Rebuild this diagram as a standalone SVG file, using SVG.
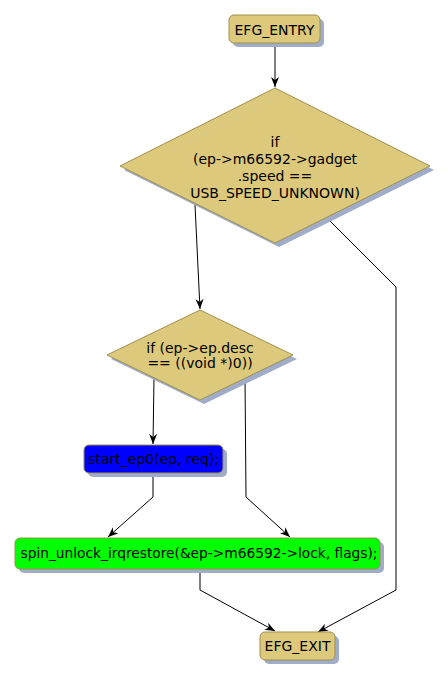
<svg xmlns="http://www.w3.org/2000/svg" width="448" height="681" viewBox="0 0 448 681">
<defs>
<style>
.n{fill:#DDC97B;stroke:#A08F4F;stroke-width:1}
.sh{fill:#9FADC8}
.t{font-family:"DejaVu Sans",sans-serif;font-size:14px;fill:#000;text-anchor:middle}
.c{fill:none;stroke:#000;stroke-width:1}
</style>
<marker id="a" viewBox="0 0 10 10" refX="10" refY="5" markerWidth="10" markerHeight="10" markerUnits="userSpaceOnUse" orient="auto">
<path d="M0,1 L10,5 L0,9 L3,5 z" fill="#000"/>
</marker>
</defs>
<rect width="448" height="681" fill="#fff"/>
<g id="connectors">
<path class="c" d="M275,46 L275,87" marker-end="url(#a)"/>
<path class="c" d="M195,205 L200,309" marker-end="url(#a)"/>
<path class="c" d="M326,217 L396,287 L396,590 L318,632" marker-end="url(#a)"/>
<path class="c" d="M154,378 L153,444" marker-end="url(#a)"/>
<path class="c" d="M245,377 L246,497 L290,537" marker-end="url(#a)"/>
<path class="c" d="M153,473 L153,497 L108,537" marker-end="url(#a)"/>
<path class="c" d="M200,569 L200,590 L275,631" marker-end="url(#a)"/>
</g>
<g id="EFG_ENTRY">
<rect class="sh" x="233" y="19" width="91" height="28" rx="5"/>
<rect class="n" x="229" y="15" width="91" height="28" rx="5"/>
<text class="t" x="274.5" y="35">EFG_ENTRY</text>
</g>
<g id="cond1">
<polygon class="sh" points="279,92 434,170 279,247 124,170"/>
<polygon class="n" points="275,88 430,166 275,243 120,166"/>
<text class="t" x="275" y="147">if</text>
<text class="t" x="275" y="164">(ep-&gt;m66592-&gt;gadget</text>
<text class="t" x="275" y="181">.speed ==</text>
<text class="t" x="275" y="198">USB_SPEED_UNKNOWN)</text>
</g>
<g id="cond2">
<polygon class="sh" points="204,314 297,359 204,404 111,359"/>
<polygon class="n" points="200,310 293,355 200,400 107,355"/>
<text class="t" x="200" y="353">if (ep-&gt;ep.desc</text>
<text class="t" x="200" y="368">== ((void *)0))</text>
</g>
<g id="start_ep0">
<rect class="sh" x="88" y="449" width="139" height="28" rx="5"/>
<rect x="84" y="445" width="139" height="28" rx="5" fill="#0000FF" stroke="#A08F4F"/>
<text class="t" x="153.5" y="464">start_ep0(ep, req);</text>
</g>
<g id="spin_unlock">
<rect class="sh" x="19" y="542" width="365" height="31" rx="5"/>
<rect x="15" y="538" width="365" height="31" rx="5" fill="#00FF00" stroke="#A08F4F"/>
<text class="t" x="199" y="558" textLength="357" lengthAdjust="spacingAndGlyphs">spin_unlock_irqrestore(&amp;ep-&gt;m66592-&gt;lock, flags);</text>
</g>
<g id="EFG_EXIT">
<rect class="sh" x="264" y="636" width="75" height="28" rx="5"/>
<rect class="n" x="260" y="632" width="75" height="28" rx="5"/>
<text class="t" x="297.5" y="651">EFG_EXIT</text>
</g>
</svg>
